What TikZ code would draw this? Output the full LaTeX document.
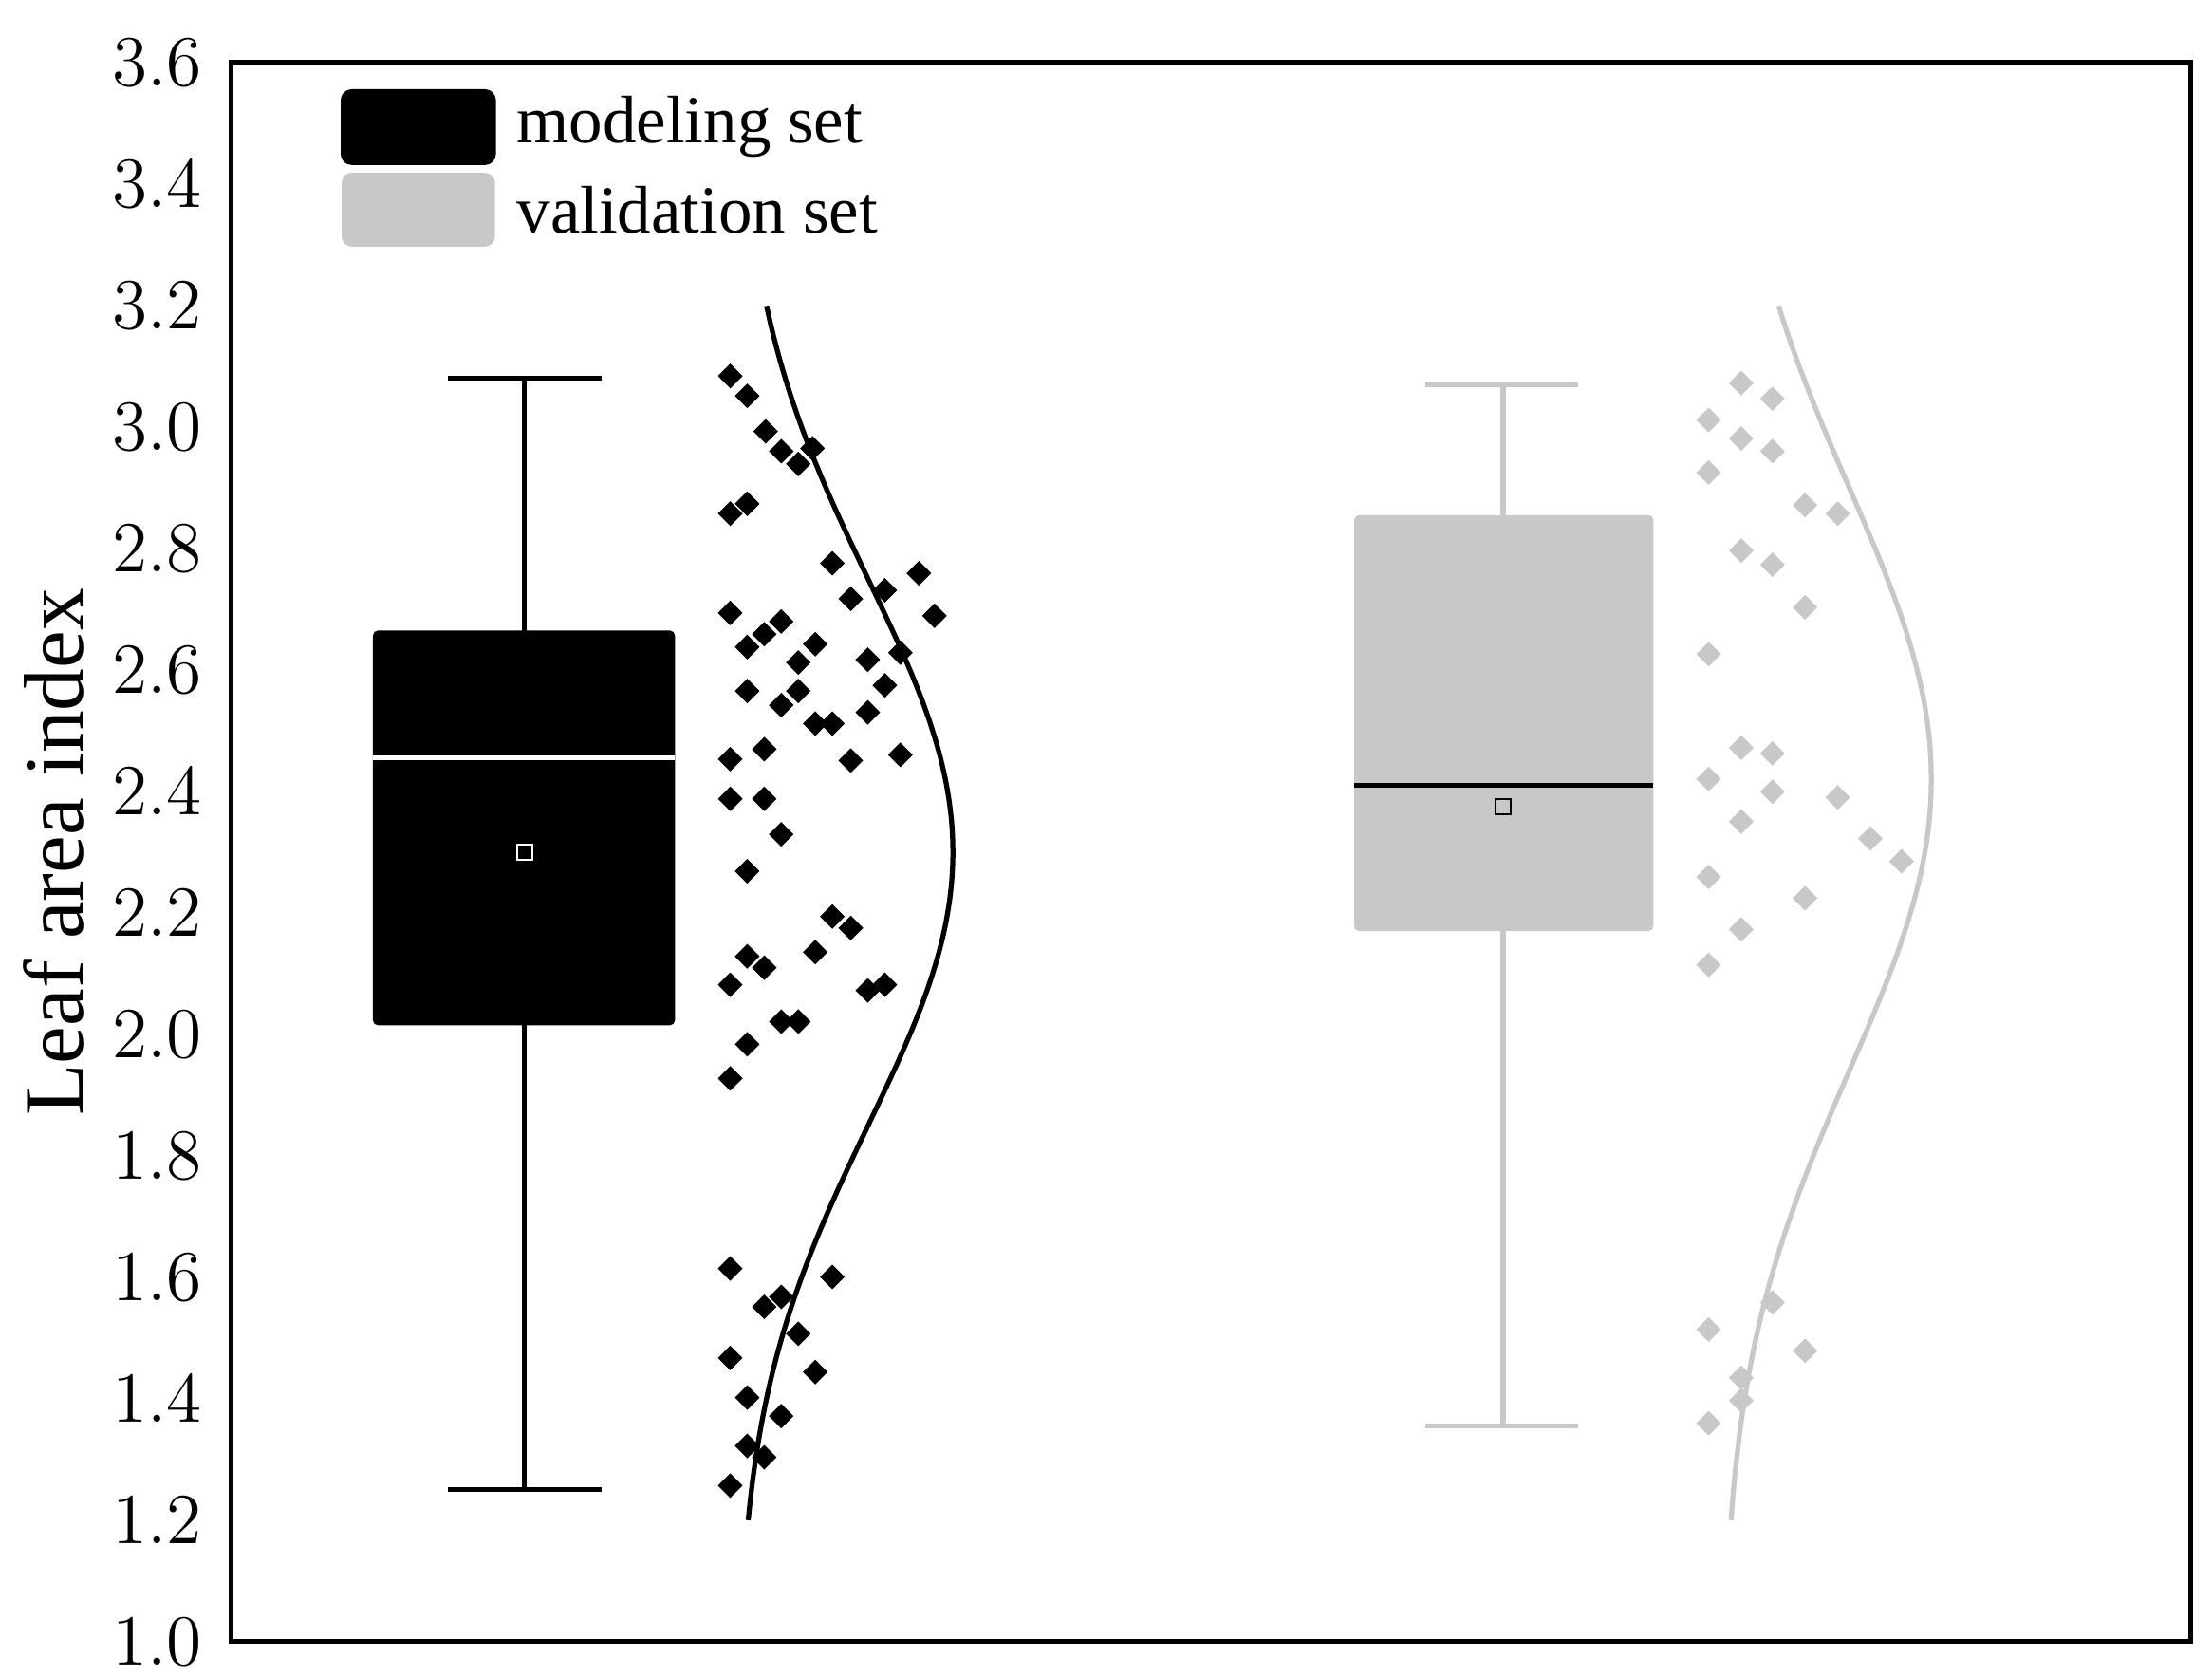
\documentclass[tikz,border=0pt]{standalone}
\usepackage{fontspec}
\setmainfont{Liberation Serif}
\usetikzlibrary{shapes.geometric}
\definecolor{valgray}{HTML}{C8C8C8}
\tikzset{
  frame/.style={line width=1pt},
  whisk/.style={line width=1pt},
  ptm/.style={diamond,fill=black,inner sep=0pt,minimum size=0.18cm},
  ptv/.style={diamond,fill=valgray,inner sep=0pt,minimum size=0.18cm},
  tick/.style={anchor=east,font=\fontsize{14.5}{14.5}\selectfont},
}
\begin{document}
\begin{tikzpicture}[x=0.01cm,y=4.28cm]
\useasboundingbox (0,0.9439) rectangle (1560,3.7033);
% frame
\draw[frame] (163,1) rectangle (1545,3.6);
\foreach \v in {1.0,1.2,...,3.61}
    \node[tick] (t\v) at (155,\v) {\pgfmathprintnumber[fixed,precision=1,fixed zerofill]{\v}};
\node[rotate=90,font=\fontsize{17}{17}\selectfont] (ylab) at (38,2.3) {Leaf area index};

% legend
\node[draw=black,fill=black,rounded corners=2pt,minimum width=1.08cm,minimum height=0.52cm] (lm) at (295,3.494) {};
\node[fill=valgray,rounded corners=2pt,minimum width=1.08cm,minimum height=0.52cm] (lv) at (295,3.358) {};
\node[anchor=west,font=\fontsize{13.5}{13.5}\selectfont] (lmt) at (352,3.494) {modeling set};
\node[anchor=west,font=\fontsize{13.5}{13.5}\selectfont] (lvt) at (352,3.358) {validation set};

% modeling set
\draw[whisk] (370,1.25) -- (370,3.08) (316,1.25) -- (424,1.25) (316,3.08) -- (424,3.08);
\fill[black,rounded corners=1pt] (263,2.015) rectangle (476,2.665);
\draw[white,line width=1pt] (263,2.455) -- (476,2.455);
\node[draw=white,fill=black,line width=0.4pt,minimum size=0.11cm,inner sep=0pt] (mm) at (370,2.30) {};
\draw[line width=1pt,domain=1.2:3.2,samples=60,smooth,variable=\v]
    plot ({520+152*exp(-(\v-2.3)^2/(2*0.2025))},\v);
\foreach \x/\y [count=\i] in {515/265,527/279,540/304,551/318,563/327,573/316,527/355,515/362,587/397,600/422,624/416,648/404,659/434,515/432,551/438,539/447,527/456,575/454,563/467,635/460,612/465,624/483,527/487,563/487,551/497,612/502,575/510,587/510,600/536,635/532,539/528,515/535,515/563,539/563,551/588,527/614,587/646,600/654,575/671,527/674,539/682,515/694,612/698,624/694,551/720,563/720,527/736,515/760,515/894,587/900,551/914,539/921,563/940,515/957,575/967,527/985,551/998,527/1019,539/1027,515/1047}
    \node[ptm] (m\i) at (\x,{1+(1157-\y)/428}) {};

% validation set
\draw[whisk,valgray] (1060,1.355) -- (1060,3.07) (1005,1.355) -- (1113,1.355) (1005,3.07) -- (1113,3.07);
\fill[valgray,rounded corners=1pt] (955,2.17) rectangle (1166,2.855);
\draw[black,line width=1pt] (955,2.41) -- (1166,2.41);
\node[draw=black,fill=valgray,line width=0.4pt,minimum size=0.11cm,inner sep=0pt] (vm) at (1060,2.375) {};
\draw[valgray,line width=1pt,domain=1.2:3.2,samples=60,smooth,variable=\v]
    plot ({1215+147*exp(-(\v-2.42)^2/(2*0.2304))},\v);
\foreach \x/\y [count=\i] in {1205/296,1228/309,1250/281,1228/270,1250/318,1205/333,1273/356,1296/362,1228/388,1250/398,1273/428,1205/461,1228/527,1250/531,1205/549,1250/558,1296/562,1228/579,1319/591,1341/607,1205/618,1273/633,1228/655,1205/680,1250/918,1205/937,1273/952,1228/971,1228/987,1205/1003}
    \node[ptv] (v\i) at (\x,{1+(1157-\y)/428}) {};
\end{tikzpicture}
\end{document}
